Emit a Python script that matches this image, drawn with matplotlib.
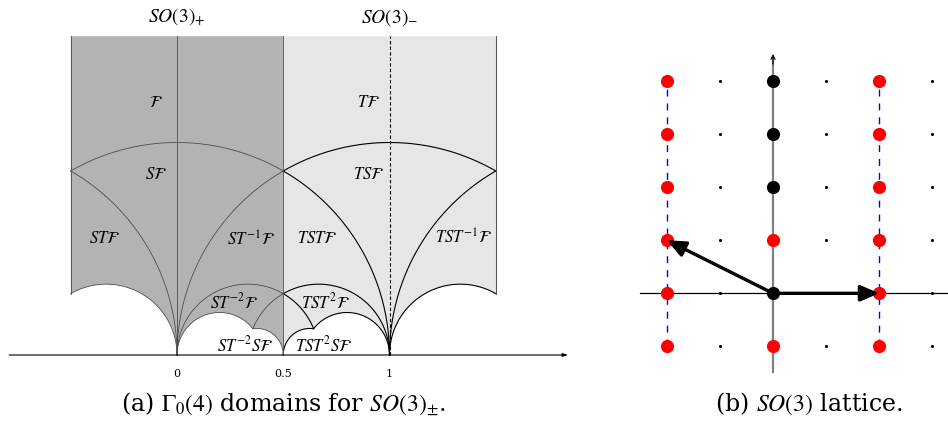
import numpy as np
import matplotlib
matplotlib.use("Agg")
import matplotlib.pyplot as plt
from matplotlib.patches import Polygon, FancyArrowPatch

plt.rcParams["mathtext.fontset"] = "stix"
plt.rcParams["font.family"] = ["DejaVu Serif"]

# ---- left panel: geodesic arcs as (centre, radius, x_from, x_to) ----
XC = 5 / 14          # where circle (1/5, 1/5) meets circle (3/8, 1/8)
TOP = 1.5
DARK_ARCS = [(0, 1, -0.5, 0.5), (-1, 1, -0.5, 0), (1, 1, 0, 0.5),
             (-1/3, 1/3, -0.5, 0), (1/3, 1/3, 0, 0.5), (2/3, 1/3, XC, 0.5),
             (0.2, 0.2, 0, XC), (0.375, 0.125, XC, 0.5)]
LIGHT_ARCS = [(1, 1, 0.5, 1.5), (0, 1, 0.5, 1), (2, 1, 1, 1.5),
              (2/3, 1/3, 0.5, 1), (1/3, 1/3, 0.5, 1 - XC), (4/3, 1/3, 1, 1.5),
              (0.625, 0.125, 0.5, 1 - XC), (0.8, 0.2, 1 - XC, 1)]
DARK_BOTTOM = [(-1/3, 1/3, -0.5, 0), (0.2, 0.2, 0, XC), (0.375, 0.125, XC, 0.5)]
LIGHT_BOTTOM = [(0.625, 0.125, 0.5, 1 - XC), (0.8, 0.2, 1 - XC, 1), (4/3, 1/3, 1, 1.5)]

# region labels
LABELS = [r"$\mathcal{F}$", r"$S\mathcal{F}$", r"$ST\mathcal{F}$", r"$ST^{-1}\mathcal{F}$",
          r"$T\mathcal{F}$", r"$TS\mathcal{F}$", r"$TST\mathcal{F}$", r"$TST^{-1}\mathcal{F}$",
          r"$ST^{-2}\mathcal{F}$", r"$TST^{2}\mathcal{F}$",
          r"$ST^{-2}S\mathcal{F}$", r"$TST^{2}S\mathcal{F}$"]
LABEL_X = [-0.1, -0.1, -0.34, 0.35, 0.9, 0.9, 0.66, 1.35, 0.27, 0.70, 0.32, 0.69]
LABEL_Y = [1.19, 0.85, 0.55, 0.54, 1.19, 0.85, 0.55, 0.55, 0.246, 0.246, 0.045, 0.045]
TICKS = [0, 0.5, 1]
TICK_LABELS = ["0", "0.5", "1"]

# ---- right panel: lattice ----
RED_X = [-2, -2, -2, -2, -2, -2, 2, 2, 2, 2, 2, 2, 0, 0]
RED_Y = [-1, 0, 1, 2, 3, 4, -1, 0, 1, 2, 3, 4, -1, 1]
BLACK_X = [0, 0, 0, 0]
BLACK_Y = [0, 2, 3, 4]
SMALL_COLS = [-1, 1, 3]
ROWS = [-1, 0, 1, 2, 3, 4]
ARROW_TIPS = [(2, 0), (-2, 1)]


def arc(c, r, xa, xb, n=200):
    ta = np.arccos(np.clip((xa - c) / r, -1, 1))
    tb = np.arccos(np.clip((xb - c) / r, -1, 1))
    t = np.linspace(ta, tb, n)
    return c + r * np.cos(t), r * np.sin(t)


def region(x0, x1, bottom):
    xs, ys = [x0], [TOP]
    for c, r, a, b in bottom:
        x, y = arc(c, r, a, b)
        xs += list(x)
        ys += list(y)
    xs += [x1]
    ys += [TOP]
    return np.column_stack([xs, ys])


fig = plt.figure(figsize=(9.48, 4.23), dpi=100)

# left panel, 1 unit = 212.5 px, origin at (177, 355) px
axL = fig.add_axes([0, 0, 590 / 948, 1])
axL.set_xlim(-177 / 212.5, (590 - 177) / 212.5)
axL.set_ylim((355 - 423) / 212.5, 355 / 212.5)
axL.axis("off")

axL.add_patch(Polygon(region(-0.5, 0.5, DARK_BOTTOM), closed=True,
                      facecolor="#b3b3b3", edgecolor="none", zorder=1))
axL.add_patch(Polygon(region(0.5, 1.5, LIGHT_BOTTOM), closed=True,
                      facecolor="#e6e6e6", edgecolor="none", zorder=1))

h_edge = np.sqrt(1 / 9 - 1 / 36)
for c, r, a, b in LIGHT_ARCS:
    axL.plot(*arc(c, r, a, b), color="black", lw=0.8, zorder=2)
axL.plot([1.5, 1.5], [h_edge, TOP], color="#555555", lw=0.8, zorder=2)
axL.plot([1, 1], [0, TOP], color="black", lw=0.8, ls=(0, (3, 2)), zorder=2)
for c, r, a, b in DARK_ARCS:
    axL.plot(*arc(c, r, a, b), color="#4d4d4d", lw=0.6, zorder=3)
axL.plot([-0.5, -0.5], [h_edge, TOP], color="#4d4d4d", lw=0.6, zorder=3)
axL.plot([0, 0], [0, TOP], color="#4d4d4d", lw=0.6, zorder=3)
axL.plot([0.5, 0.5], [0, TOP], color="#4d4d4d", lw=0.6, zorder=3)

axL.annotate("", xy=(1.84, 0), xytext=(-0.79, 0),
             arrowprops=dict(arrowstyle="-|>,head_length=0.3,head_width=0.1",
                             color="black", lw=0.8, shrinkA=0, shrinkB=0), zorder=4)
for t, s in zip(TICKS, TICK_LABELS):
    axL.text(t, -0.088, s, ha="center", va="center", fontsize=8)

for s, x, y in zip(LABELS, LABEL_X, LABEL_Y):
    axL.text(x, y, s, ha="center", va="center", fontsize=12)

axL.text(0, 1.59, r"$SO(3)_{+}$", ha="center", va="center", fontsize=14)
axL.text(1, 1.59, r"$SO(3)_{-}$", ha="center", va="center", fontsize=14)

# right panel, 1 unit = 53.1 px, origin at (773, 293.3) px
u = 53.1
axR = fig.add_axes([600 / 948, 0, 348 / 948, 1])
axR.set_xlim((600 - 773) / u, (948 - 773) / u)
axR.set_ylim((293.3 - 423) / u, 293.3 / u)
axR.axis("off")

axR.plot([(640 - 773) / u, (950 - 773) / u], [0, 0], color="black", lw=0.9, zorder=1)
axR.plot([0, 0], [(293.3 - 372) / u, (293.3 - 58) / u], color="#808080", lw=1.6, zorder=1)
axR.annotate("", xy=(0, (293.3 - 54) / u), xytext=(0, (293.3 - 64) / u),
             arrowprops=dict(arrowstyle="->,head_length=0.3,head_width=0.15",
                             color="black", lw=0.8, shrinkA=0, shrinkB=0), zorder=2)
for xc in [-2, 2]:
    axR.plot([xc, xc], [min(ROWS), max(ROWS)], color="#0000ff", lw=1.0,
             dashes=(5, 5), zorder=1)

sx = [c for c in SMALL_COLS for _ in ROWS]
sy = [r for _ in SMALL_COLS for r in ROWS]
axR.scatter(sx, sy, s=5, color="black", zorder=3, linewidths=0)
axR.scatter(RED_X, RED_Y, s=90, color="red", zorder=3, linewidths=0)
axR.scatter(BLACK_X, BLACK_Y, s=90, color="black", zorder=3, linewidths=0)

for tx, ty in ARROW_TIPS:
    axR.add_patch(FancyArrowPatch((0, 0), (tx, ty),
                                  arrowstyle="-|>,head_length=7,head_width=3",
                                  color="black", lw=2.4, shrinkA=0, shrinkB=0,
                                  mutation_scale=1.6, zorder=4))

fig.text(284 / 948, 1 - 404 / 423, r"(a) $\Gamma_0(4)$ domains for $SO(3)_{\pm}$.",
         ha="center", va="center", fontsize=17)
fig.text(809 / 948, 1 - 404 / 423, r"(b) $SO(3)$ lattice.",
         ha="center", va="center", fontsize=17)

fig.savefig("out.png", dpi=100)
